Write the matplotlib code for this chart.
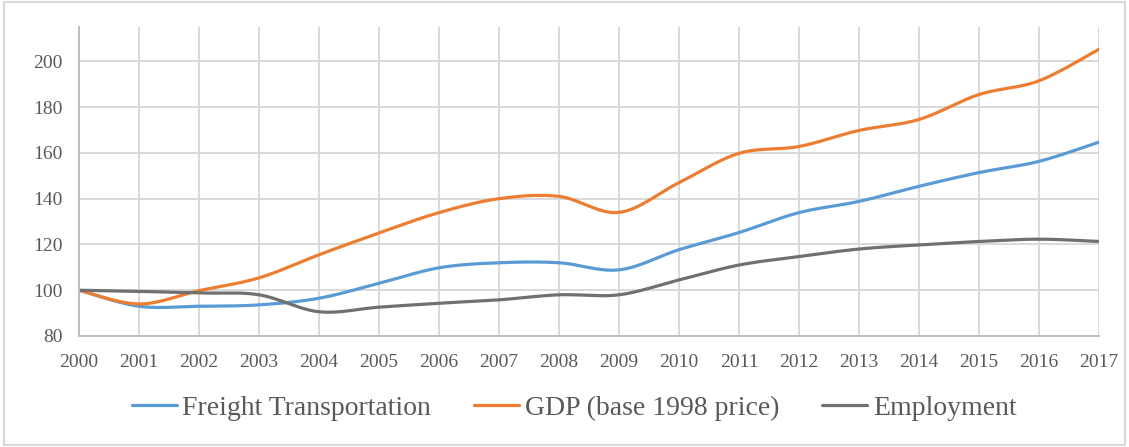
import numpy as np
import matplotlib.pyplot as plt
from matplotlib.patches import Rectangle

plt.rcParams['font.family'] = ['Liberation Serif', 'DejaVu Serif']

# 数据
years = list(range(2000, 2018))
freight = [100, 93, 93, 93.6, 96.5, 103, 109.8, 112, 112, 108.9,
           117.7, 125.2, 133.9, 138.8, 145.4, 151.4, 156.3, 164.7]
gdp = [100, 94, 99.8, 105.4, 115.5, 125, 133.9, 140, 141, 134,
       147, 159.8, 162.8, 169.8, 174.6, 185.5, 191.5, 205.3]
employment = [100, 99.5, 98.8, 98, 90.6, 92.6, 94.3, 95.8, 98, 98,
              104.5, 111, 114.7, 118, 119.8, 121.3, 122.3, 121.3]
series_names = ['Freight Transportation', 'GDP (base 1998 price)', 'Employment']
colors = ['#5B9BD5', '#ED7D31', '#707070']
TEXT = '#595959'
GRID = '#D9D9D9'


def smooth(x, y, n=30):
    """Excel风格平滑线 (Catmull-Rom)"""
    x = np.asarray(x, float)
    y = np.asarray(y, float)
    px = np.concatenate([[x[0]], x, [x[-1]]])
    py = np.concatenate([[y[0]], y, [y[-1]]])
    t = np.linspace(0, 1, n, endpoint=False)
    xs, ys = [], []
    for i in range(1, len(px) - 2):
        p0, p1, p2, p3 = px[i - 1], px[i], px[i + 1], px[i + 2]
        q0, q1, q2, q3 = py[i - 1], py[i], py[i + 1], py[i + 2]
        # 贝塞尔控制点
        c1x, c1y = p1 + (p2 - p0) / 6, q1 + (q2 - q0) / 6
        c2x, c2y = p2 - (p3 - p1) / 6, q2 - (q3 - q1) / 6
        b = [(1 - t) ** 3, 3 * (1 - t) ** 2 * t, 3 * (1 - t) * t ** 2, t ** 3]
        xs.append(b[0] * p1 + b[1] * c1x + b[2] * c2x + b[3] * p2)
        ys.append(b[0] * q1 + b[1] * c1y + b[2] * c2y + b[3] * q2)
    xs.append([x[-1]])
    ys.append([y[-1]])
    return np.concatenate(xs), np.concatenate(ys)


fig = plt.figure(figsize=(11.29, 4.47), dpi=100)
ax = fig.add_axes([79 / 1129, 1 - 336 / 447, 1020 / 1129, 309 / 447])

for vals, name, c in zip([freight, gdp, employment], series_names, colors):
    sx, sy = smooth(years, vals)
    ax.plot(sx, sy, color=c, linewidth=2.3, label=name, solid_capstyle='round')

ax.set_xlim(2000, 2017)
ax.set_ylim(80, 215)
ax.set_xticks(years)
ax.set_yticks(range(80, 201, 20))
ax.grid(True, color=GRID, linewidth=1.4)
ax.set_axisbelow(True)
ax.tick_params(length=0, labelsize=14, colors=TEXT)
ax.tick_params(axis='x', pad=13)
ax.tick_params(axis='y', pad=12)
for s in ['top', 'right']:
    ax.spines[s].set_visible(False)
for s in ['left', 'bottom']:
    ax.spines[s].set_color('#BFBFBF')
    ax.spines[s].set_linewidth(1.4)

fig.legend(loc='center', bbox_to_anchor=(574 / 1129, 1 - 408 / 447), ncol=3,
           frameon=False, fontsize=20, handlelength=1.62, handletextpad=0.2,
           columnspacing=1.55, labelcolor=TEXT)

# 外框
fig.patches.append(Rectangle((4 / 1129, 2 / 447), 1121 / 1129, 443 / 447,
                             transform=fig.transFigure, fill=False,
                             edgecolor='#D9D9D9', linewidth=1.5))

plt.savefig('out.png', dpi=100, facecolor='white')
